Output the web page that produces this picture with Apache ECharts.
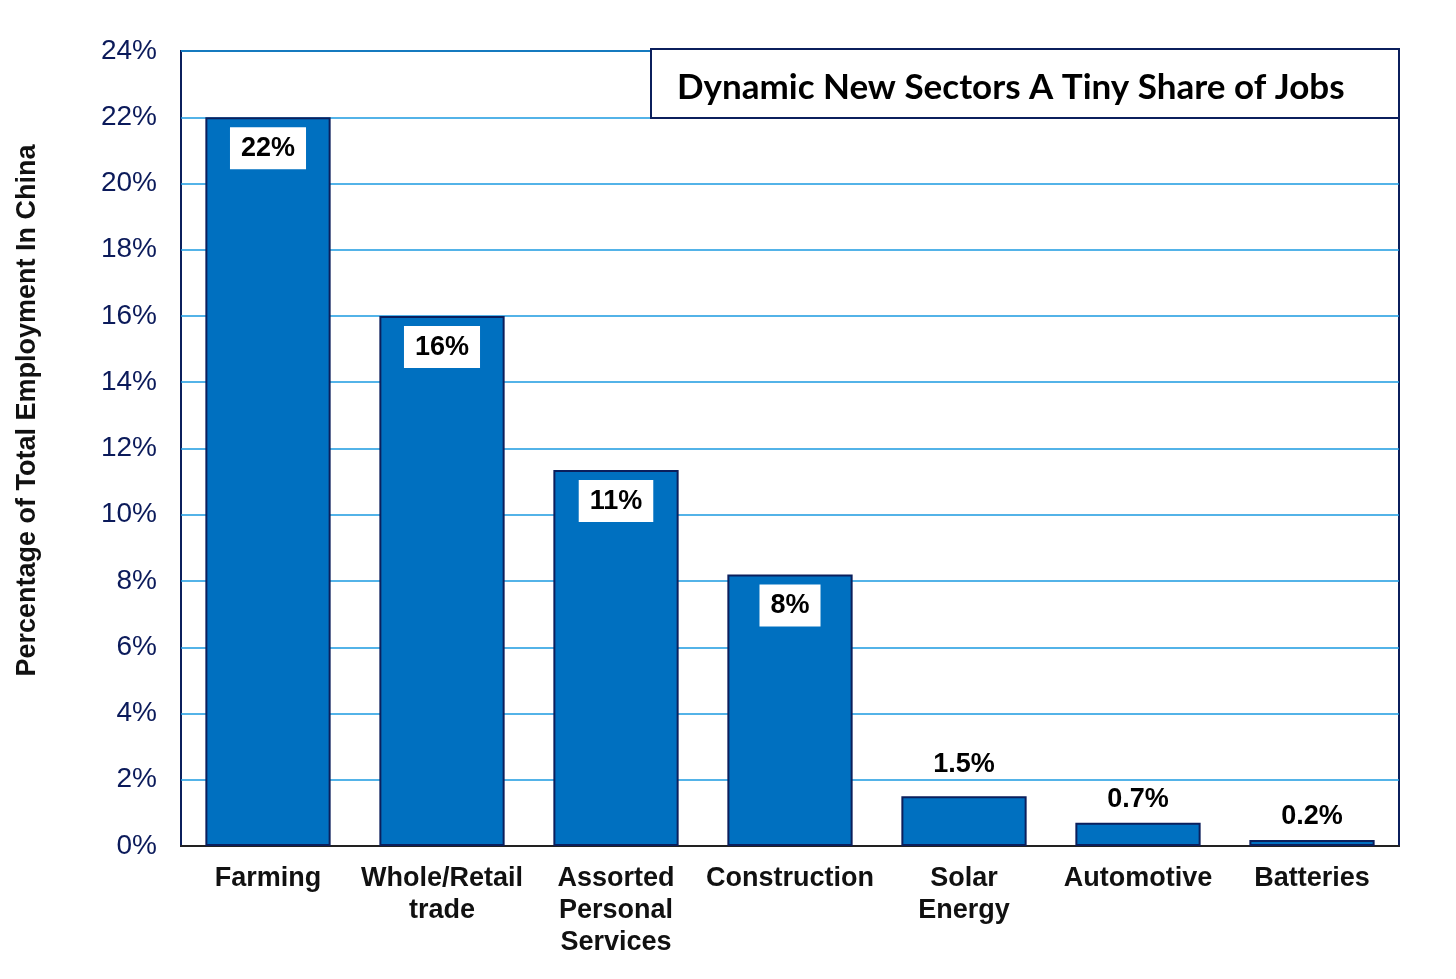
<!DOCTYPE html>
<html>
<head>
<meta charset="utf-8">
<script src="https://cdn.jsdelivr.net/npm/echarts@6/dist/echarts.min.js"></script>
<style>
  html, body { margin: 0; padding: 0; background: #fff; }
  #chart { width: 1456px; height: 979px; }
</style>
</head>
<body>
<div id="chart"></div>
<script>
var categories = ['Farming', 'Whole/Retail\ntrade', 'Assorted\nPersonal\nServices', 'Construction', 'Solar\nEnergy', 'Automotive', 'Batteries'];
var shares = [22, 16, 11.35, 8.2, 1.5, 0.7, 0.18];
var shareLabels = ['22%', '16%', '11%', '8%', '1.5%', '0.7%', '0.2%'];
var yTicks = [0, 2, 4, 6, 8, 10, 12, 14, 16, 18, 20, 22, 24];

var chartDom = document.getElementById('chart');
var myChart = echarts.init(chartDom);
var option;

var navy = '#0b1f5c';
var font = 'Liberation Sans, Arial, sans-serif';

var barData = shares.map(function (v, i) {
  var big = v > 5;
  return {
    value: v,
    label: big ? {
      position: 'insideTop',
      distance: 10,
      backgroundColor: '#fff',
      padding: [8, 11, 7, 11]
    } : {
      position: 'top',
      distance: i === 4 ? 18 : 10
    }
  };
});

option = {
  animation: false,
  grid: {
    left: 181,
    right: 57,
    top: 51,
    bottom: 133,
    show: true,
    borderColor: navy,
    borderWidth: 2,
    backgroundColor: '#fff'
  },
  xAxis: {
    type: 'category',
    data: categories,
    axisTick: { show: false },
    axisLine: { lineStyle: { color: '#222', width: 2 } },
    axisLabel: {
      interval: 0,
      margin: 17,
      color: '#111',
      fontFamily: font,
      fontWeight: 'bold',
      fontSize: 27,
      lineHeight: 32
    }
  },
  yAxis: {
    type: 'value',
    min: yTicks[0],
    max: yTicks[yTicks.length - 1],
    interval: 2,
    name: 'Percentage of Total Employment In China',
    nameLocation: 'middle',
    nameGap: 140,
    nameTextStyle: {
      color: '#111',
      fontFamily: font,
      fontWeight: 'bold',
      fontSize: 27,
      padding: [0, 0, 0, 76]
    },
    axisLine: { show: false },
    axisTick: { show: false },
    axisLabel: {
      margin: 24,
      color: '#0b1a5a',
      fontFamily: font,
      fontSize: 28,
      formatter: function (v) { return v + '%'; }
    },
    splitLine: { lineStyle: { color: '#1a9ae0', width: 1.5 } }
  },
  graphic: [
    {
      type: 'rect',
      shape: { x: 651, y: 49, width: 748, height: 69 },
      style: { fill: '#fff', stroke: navy, lineWidth: 2 },
      z: 100
    },
    {
      type: 'text',
      x: 677,
      y: 88,
      style: {
        text: 'Dynamic New Sectors A Tiny Share of Jobs',
        fill: '#000',
        font: 'bold 35px Lato, "Open Sans", sans-serif',
        verticalAlign: 'middle'
      },
      z: 101
    }
  ],
  series: [
    {
      type: 'bar',
      data: barData,
      barCategoryGap: '28%',
      itemStyle: {
        color: '#0070c0',
        borderColor: navy,
        borderWidth: 2
      },
      label: {
        show: true,
        color: '#000',
        fontFamily: font,
        fontWeight: 'bold',
        fontSize: 27,
        formatter: function (p) { return shareLabels[p.dataIndex]; }
      }
    }
  ]
};
option && myChart.setOption(option);
</script>
</body>
</html>
